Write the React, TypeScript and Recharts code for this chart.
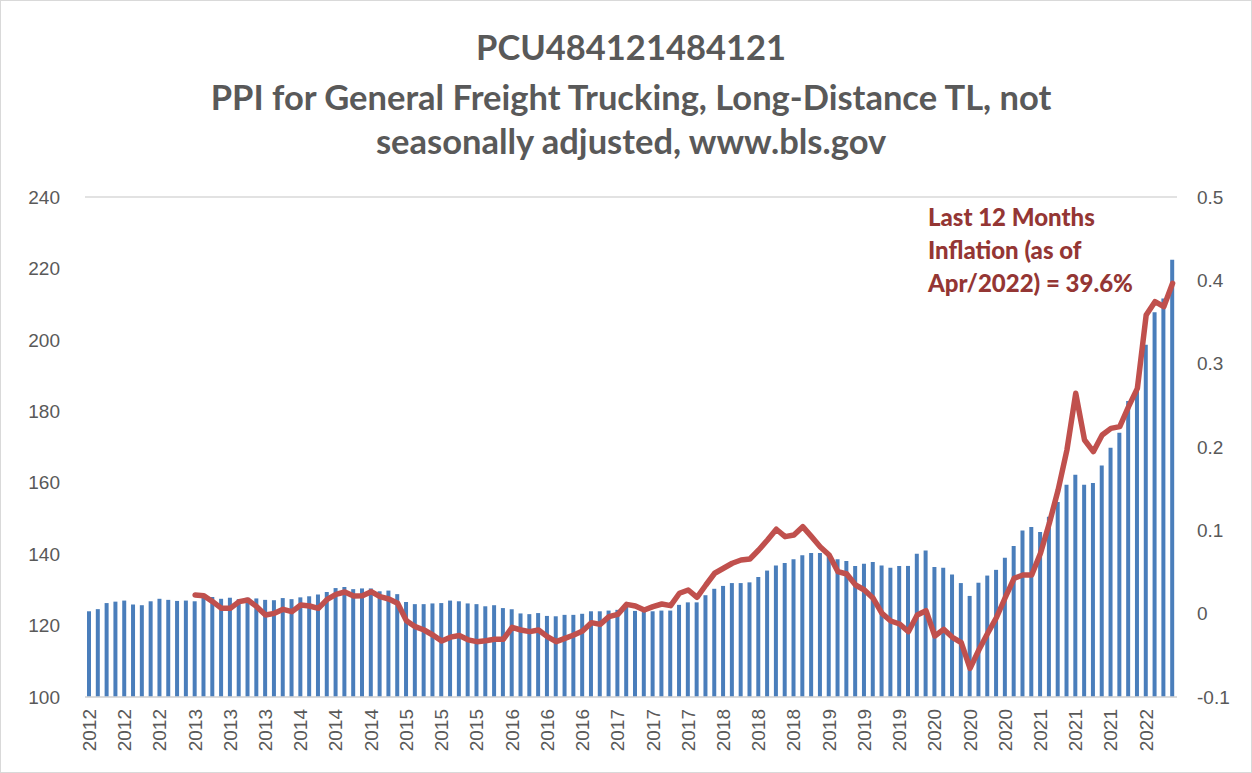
import React from "react";
import { ComposedChart, Bar, Line, XAxis, YAxis, CartesianGrid } from "recharts";

// Years covered (monthly data, Jan 2012 .. Apr 2022)
const years = [2012, 2013, 2014, 2015, 2016, 2017, 2018, 2019, 2020, 2021, 2022];
const monthNames = ["Jan", "Feb", "Mar", "Apr", "May", "Jun", "Jul", "Aug", "Sep", "Oct", "Nov", "Dec"];

// PPI index values (left axis), by year
const ppi2012 = [124.0, 124.6, 126.3, 126.7, 127.0, 125.9, 125.7, 126.8, 127.5, 127.2, 126.9, 127.0];
const ppi2013 = [126.8, 127.9, 128.0, 127.5, 127.8, 127.4, 127.8, 127.6, 127.2, 127.1, 127.7, 127.4];
const ppi2014 = [127.9, 128.2, 128.7, 129.4, 130.5, 130.8, 130.2, 130.4, 130.4, 129.6, 129.8, 128.8];
const ppi2015 = [126.6, 126.0, 126.0, 126.2, 126.3, 127.0, 126.8, 126.2, 126.0, 125.4, 125.7, 124.9];
const ppi2016 = [124.6, 123.4, 123.2, 123.5, 122.7, 122.6, 123.0, 123.0, 123.3, 124.0, 124.0, 124.2];
const ppi2017 = [124.4, 126.0, 124.1, 123.9, 124.0, 124.2, 124.2, 125.8, 126.5, 126.5, 128.5, 130.3];
const ppi2018 = [131.1, 131.9, 131.9, 132.1, 133.6, 135.4, 136.8, 137.5, 138.6, 139.7, 140.3, 140.3];
const ppi2019 = [139.9, 138.6, 138.1, 136.7, 137.3, 137.8, 136.8, 136.2, 136.7, 136.7, 140.1, 141.0];
const ppi2020 = [136.4, 136.2, 134.3, 131.9, 128.3, 132.0, 134.0, 135.6, 139.0, 142.3, 146.6, 147.6];
const ppi2021 = [146.2, 150.5, 154.6, 159.4, 162.2, 159.4, 159.9, 164.8, 169.8, 174.0, 182.9, 187.3];
const ppi2022 = [198.6, 207.7, 211.6, 222.4];

// Last-12-months inflation (right axis), by year; 2012 has none
const infl2012: (number | null)[] = [null, null, null, null, null, null, null, null, null, null, null, null];
const infl2013 = [0.0224, 0.0216, 0.0144, 0.0064, 0.0064, 0.0144, 0.0164, 0.0084, -0.0016, 0.0004, 0.0052, 0.0024];
const infl2014 = [0.0104, 0.0092, 0.0064, 0.0172, 0.0232, 0.026, 0.0212, 0.0216, 0.0264, 0.0204, 0.0176, 0.0124];
const infl2015 = [-0.0084, -0.0156, -0.0196, -0.0256, -0.0328, -0.0282, -0.0262, -0.0314, -0.0336, -0.0324, -0.0308, -0.0308];
const infl2016 = [-0.0164, -0.0196, -0.0216, -0.0196, -0.0276, -0.0336, -0.0296, -0.0256, -0.0208, -0.0108, -0.0128, -0.0036];
const infl2017 = [-0.0008, 0.0112, 0.0092, 0.0044, 0.0084, 0.0116, 0.0096, 0.0245, 0.0284, 0.0196, 0.0344, 0.0485];
const infl2018 = [0.0545, 0.0605, 0.0644, 0.0656, 0.0764, 0.0884, 0.1013, 0.0924, 0.0944, 0.1044, 0.0924, 0.08];
const infl2019 = [0.0704, 0.0504, 0.0476, 0.0344, 0.0284, 0.0184, 0.0004, -0.0088, -0.0124, -0.0216, -0.0016, 0.0036];
const infl2020 = [-0.0268, -0.0188, -0.0284, -0.0348, -0.0656, -0.0436, -0.0236, -0.0046, 0.0194, 0.0424, 0.0464, 0.0464];
const infl2021 = [0.0724, 0.1084, 0.1484, 0.1964, 0.2644, 0.2084, 0.1944, 0.2144, 0.2224, 0.2244, 0.2484, 0.2704];
const infl2022 = [0.3584, 0.3744, 0.3684, 0.3964];

const leftTicks = [100, 120, 140, 160, 180, 200, 220, 240];
const rightTicks = [-0.1, 0, 0.1, 0.2, 0.3, 0.4, 0.5];

const titleLines = [
  "PCU484121484121",
  "PPI for General Freight Trucking, Long-Distance TL, not",
  "seasonally adjusted, www.bls.gov",
];
const noteLines = ["Last 12 Months", "Inflation (as of", "Apr/2022) = 39.6%"];

const ppiByYear = [ppi2012, ppi2013, ppi2014, ppi2015, ppi2016, ppi2017, ppi2018, ppi2019, ppi2020, ppi2021, ppi2022];
const inflByYear = [infl2012, infl2013, infl2014, infl2015, infl2016, infl2017, infl2018, infl2019, infl2020, infl2021, infl2022];

const data: { month: string; year: string; ppi: number; infl: number | null }[] = [];
years.forEach((y, yi) => {
  ppiByYear[yi].forEach((v, mi) => {
    data.push({ month: `${monthNames[mi]} ${y}`, year: String(y), ppi: v, infl: inflByYear[yi][mi] });
  });
});

const TICK_FONT = "'Liberation Sans', Arial, sans-serif";
const TITLE_FONT = "Lato, 'Open Sans', sans-serif";

const XTick = (props: any) => {
  const { x, y, payload } = props;
  const label = String(payload.value).slice(-4);
  const ty = y + 10;
  return (
    <text
      x={x}
      y={ty}
      transform={`rotate(-90, ${x}, ${ty})`}
      textAnchor="end"
      dominantBaseline="central"
      fill="#595959"
      fontSize={19}
      fontFamily={TICK_FONT}
    >
      {label}
    </text>
  );
};

export default function App() {
  return (
    <div style={{ position: "absolute", left: 0, top: 0, width: 1252, height: 773, background: "#fff" }}>
      <div
        style={{
          position: "absolute",
          left: 0,
          top: 0,
          width: 1250,
          height: 771,
          border: "1px solid #d9d9d9",
        }}
      />
      <ComposedChart
        width={1252}
        height={773}
        data={data}
        margin={{ top: 197, right: 0, bottom: 0, left: 0 }}
      >
        <CartesianGrid vertical={false} stroke="#d9d9d9" strokeWidth={1.5} />
        <XAxis
          dataKey="month"
          interval={3}
          tick={<XTick />}
          tickLine={false}
          axisLine={{ stroke: "#d9d9d9", strokeWidth: 1.5 }}
          height={76}
          tickSize={0}
        />
        <YAxis
          yAxisId="left"
          domain={[100, 240]}
          ticks={leftTicks}
          width={85}
          axisLine={false}
          tickLine={false}
          tickSize={0}
          tickMargin={25}
          tick={{ fill: "#595959", fontSize: 19, fontFamily: TICK_FONT }}
        />
        <YAxis
          yAxisId="right"
          orientation="right"
          domain={[-0.1, 0.5]}
          ticks={rightTicks}
          width={75}
          axisLine={false}
          tickLine={false}
          tickSize={0}
          tickMargin={20}
          tickFormatter={(v: number) => String(Math.round(v * 10) / 10)}
          tick={{ fill: "#595959", fontSize: 19, fontFamily: TICK_FONT }}
        />
        <Bar yAxisId="left" dataKey="ppi" fill="#4a7ebb" barSize={4} isAnimationActive={false} />
        <Line
          yAxisId="right"
          dataKey="infl"
          stroke="#c0504d"
          strokeWidth={5.5}
          dot={false}
          activeDot={false}
          connectNulls={false}
          strokeLinejoin="round"
          strokeLinecap="round"
          isAnimationActive={false}
        />
      </ComposedChart>
      {titleLines.map((t, i) => (
        <div
          key={t}
          style={{
            position: "absolute",
            left: 0,
            width: 1262,
            top: [27, 77, 121][i],
            textAlign: "center",
            fontFamily: TITLE_FONT,
            fontWeight: 700,
            fontSize: 34.5,
            lineHeight: "40px",
            color: "#595959",
            whiteSpace: "nowrap",
          }}
        >
          {t}
        </div>
      ))}
      {noteLines.map((t, i) => (
        <div
          key={t}
          style={{
            position: "absolute",
            left: 928,
            top: 202 + i * 33,
            fontFamily: TITLE_FONT,
            fontWeight: 900,
            fontSize: 24,
            lineHeight: "30px",
            color: "#943634",
            whiteSpace: "nowrap",
          }}
        >
          {t}
        </div>
      ))}
    </div>
  );
}
